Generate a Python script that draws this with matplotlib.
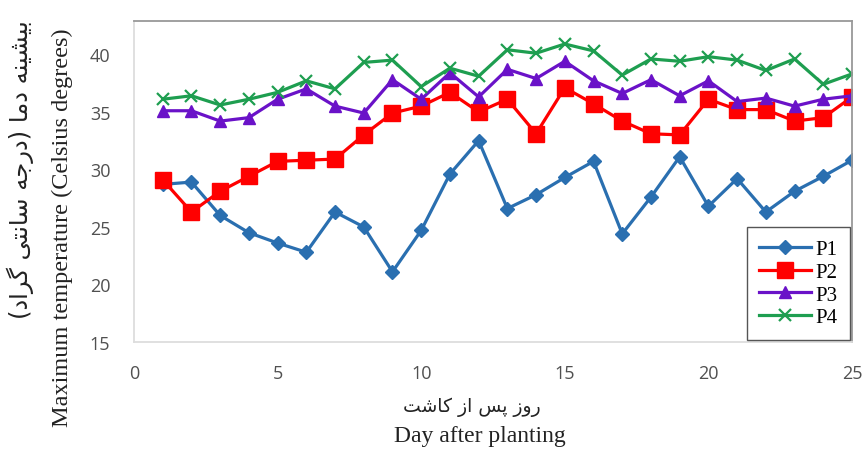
import matplotlib
matplotlib.use("Agg")
import matplotlib.pyplot as plt

days = list(range(1, 26))
p1 = [28.7, 28.9, 26.0, 24.5, 23.6, 22.8, 26.3, 25.0, 21.1, 24.7, 29.6, 32.5, 26.6,
      27.8, 29.3, 30.7, 24.4, 27.6, 31.1, 26.8, 29.2, 26.3, 28.1, 29.4, 30.8]
p2 = [29.1, 26.3, 28.1, 29.4, 30.7, 30.8, 30.9, 33.0, 34.9, 35.5, 36.7, 35.0, 36.1,
      33.1, 37.1, 35.7, 34.2, 33.1, 33.0, 36.1, 35.2, 35.2, 34.2, 34.5, 36.3]
p3 = [35.1, 35.1, 34.2, 34.5, 36.1, 37.0, 35.5, 34.9, 37.8, 36.1, 38.4, 36.3, 38.7,
      37.9, 39.4, 37.7, 36.6, 37.8, 36.4, 37.7, 35.9, 36.2, 35.5, 36.1, 36.4]
p4 = [36.1, 36.4, 35.6, 36.1, 36.7, 37.7, 37.0, 39.3, 39.5, 37.2, 38.8, 38.1, 40.4,
      40.1, 40.9, 40.3, 38.2, 39.6, 39.4, 39.8, 39.5, 38.6, 39.6, 37.4, 38.3]
series_names = ["P1", "P2", "P3", "P4"]
xticks = [0, 5, 10, 15, 20, 25]
yticks = [15, 20, 25, 30, 35, 40]

ylabel_fa = "بیشینه دما (درجه سانتی گراد)"
ylabel_en = "Maximum temperature (Celsius degrees)"
xlabel_fa = "روز پس از کاشت"
xlabel_en = "Day after planting"

# --- minimal Arabic-script shaping for matplotlib (no native shaping) ---
FORMS = {
    'ا': ('\uFE8D', '\uFE8E', None, None),
    'د': ('\uFEA9', '\uFEAA', None, None),
    'ر': ('\uFEAD', '\uFEAE', None, None),
    'ز': ('\uFEAF', '\uFEB0', None, None),
    'و': ('\uFEED', '\uFEEE', None, None),
    'ب': ('\uFE8F', '\uFE90', '\uFE91', '\uFE92'),
    'پ': ('\uFB56', '\uFB57', '\uFB58', '\uFB59'),
    'ت': ('\uFE95', '\uFE96', '\uFE97', '\uFE98'),
    'ج': ('\uFE9D', '\uFE9E', '\uFE9F', '\uFEA0'),
    'س': ('\uFEB1', '\uFEB2', '\uFEB3', '\uFEB4'),
    'ش': ('\uFEB5', '\uFEB6', '\uFEB7', '\uFEB8'),
    'ک': ('\uFB8E', '\uFB8F', '\uFB90', '\uFB91'),
    'گ': ('\uFB92', '\uFB93', '\uFB94', '\uFB95'),
    'ل': ('\uFEDD', '\uFEDE', '\uFEDF', '\uFEE0'),
    'م': ('\uFEE1', '\uFEE2', '\uFEE3', '\uFEE4'),
    'ن': ('\uFEE5', '\uFEE6', '\uFEE7', '\uFEE8'),
    'ه': ('\uFEE9', '\uFEEA', '\uFEEB', '\uFEEC'),
    'ی': ('\uFBFC', '\uFBFD', '\uFBFE', '\uFBFF'),
}


def shape(text):
    out = []
    n = len(text)
    for i, ch in enumerate(text):
        if ch not in FORMS:
            out.append(ch)
            continue
        f = FORMS[ch]
        prev = text[i - 1] if i > 0 else None
        nxt = text[i + 1] if i < n - 1 else None
        join_prev = prev in FORMS and FORMS[prev][2] is not None
        join_next = f[2] is not None and nxt in FORMS
        if join_prev and join_next:
            out.append(f[3])
        elif join_prev:
            out.append(f[1])
        elif join_next:
            out.append(f[2])
        else:
            out.append(f[0])
    vis = ''.join(reversed(out))
    vis = vis.translate(str.maketrans({'(': ')', ')': '('}))
    return vis


fig = plt.figure(figsize=(8.63, 4.52), dpi=100)
ax = fig.add_axes([134 / 863, 1 - 343 / 452, (852 - 134) / 863, (343 - 22) / 452])

styles = [
    dict(color="#2A6FB0", marker="D", markersize=7),
    dict(color="#FF0000", marker="s", markersize=11),
    dict(color="#6A12C8", marker="^", markersize=9),
    dict(color="#1E9E50", marker="x", markersize=9, markeredgewidth=1.6),
]
for vals, name, st in zip([p1, p2, p3, p4], series_names, styles):
    ax.plot(days, vals, linewidth=2.3, label=name, **st)

ax.set_xlim(0, 25)
ax.set_ylim(15, 42.9)
ax.set_xticks(xticks)
ax.set_yticks(yticks)
ax.tick_params(length=0, labelsize=13, labelcolor="#505050")
ax.tick_params(axis="x", pad=16)
ax.tick_params(axis="y", pad=17)
for lab in ax.get_xticklabels() + ax.get_yticklabels():
    lab.set_family("Open Sans")
ax.spines["left"].set_color("#dddddd")
ax.spines["bottom"].set_color("#dddddd")
ax.spines["top"].set_color("#999999")
ax.spines["right"].set_color("#999999")
for s in ax.spines.values():
    s.set_linewidth(1.3)

leg = ax.legend(loc="lower right", prop={"family": "Liberation Serif", "size": 15},
                frameon=True, fancybox=False, edgecolor="#555555", framealpha=1,
                handlelength=2.5, borderaxespad=0.1, labelspacing=0.15,
                handletextpad=0.2, borderpad=0.6)
leg.get_frame().set_linewidth(1.0)

fig.text(20 / 863, 1 - 170 / 452, shape(ylabel_fa), rotation=90, ha="center", va="center",
         family="DejaVu Sans", fontsize=17.5, color="#222222")
fig.text(62 / 863, 1 - 228 / 452, ylabel_en, rotation=90, ha="center", va="center",
         family="Liberation Serif", fontsize=17.5, color="#222222")
fig.text(472 / 863, 1 - 407 / 452, shape(xlabel_fa), ha="center", va="center",
         family="DejaVu Sans", fontsize=13.5, color="#222222")
fig.text(480 / 863, 1 - 437 / 452, xlabel_en, ha="center", va="center",
         family="Liberation Serif", fontsize=17, color="#222222")

fig.savefig("out.png", dpi=100)
